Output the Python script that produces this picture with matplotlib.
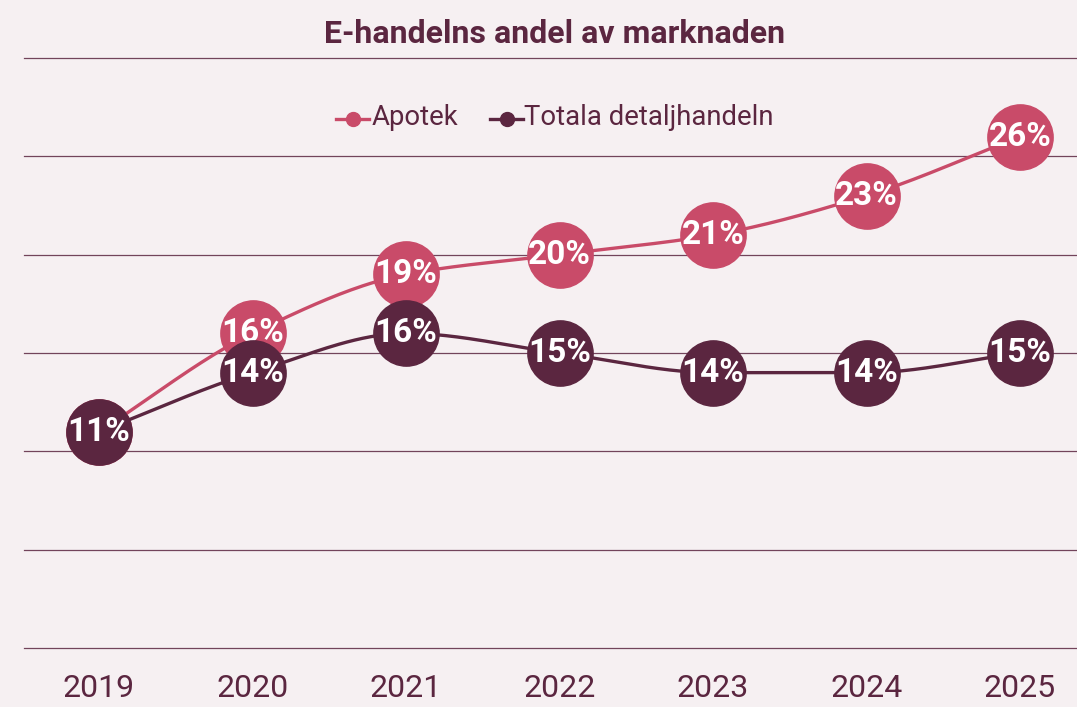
import matplotlib.pyplot as plt
import numpy as np

years = ['2019', '2020', '2021', '2022', '2023', '2024', '2025']
apotek = [11, 16, 19, 20, 21, 23, 26]
totala = [11, 14, 16, 15, 14, 14, 15]

PINK = '#c94b69'
DARK = '#5b2640'
BG = '#f6f0f2'


def monotone(x, y, n=40):
    # monotone cubic (Fritsch-Carlson) for a smooth line through the points
    x = np.asarray(x, float)
    y = np.asarray(y, float)
    h = np.diff(x)
    d = np.diff(y) / h
    m = np.zeros_like(y)
    m[0], m[-1] = d[0], d[-1]
    for i in range(1, len(y) - 1):
        if d[i - 1] * d[i] <= 0:
            m[i] = 0
        else:
            w1 = 2 * h[i] + h[i - 1]
            w2 = h[i] + 2 * h[i - 1]
            m[i] = (w1 + w2) / (w1 / d[i - 1] + w2 / d[i])
    xs, ys = [], []
    for i in range(len(x) - 1):
        t = np.linspace(0, 1, n)
        h00 = 2 * t**3 - 3 * t**2 + 1
        h10 = t**3 - 2 * t**2 + t
        h01 = -2 * t**3 + 3 * t**2
        h11 = t**3 - t**2
        xs.append(x[i] + t * h[i])
        ys.append(h00 * y[i] + h10 * h[i] * m[i] + h01 * y[i + 1] + h11 * h[i] * m[i + 1])
    return np.concatenate(xs), np.concatenate(ys)


fig = plt.figure(figsize=(10.77, 7.07), dpi=100)
fig.set_facecolor(BG)
ax = fig.add_axes([24 / 1077, 59 / 707, 1053 / 1077, 590 / 707])
ax.set_facecolor(BG)
ax.set_xlim(-0.489, 6.371)
ax.set_ylim(0, 30)
for s in ax.spines.values():
    s.set_visible(False)
ax.set_yticks([])
ax.set_xticks(range(len(years)))
ax.set_xticklabels(years, fontsize=23, color=DARK, family='Roboto')
ax.tick_params(axis='x', length=0, pad=19)
for v in range(0, 31, 5):
    ax.axhline(v, color=DARK, lw=0.9, zorder=1, alpha=0.85, clip_on=False)

x = np.arange(len(years))
z = 2
for vals, col in [(apotek, PINK), (totala, DARK)]:
    sx, sy = monotone(x, vals)
    ax.plot(sx, sy, color=col, lw=2.4, zorder=z, solid_capstyle='round')
    ax.plot(x, vals, 'o', color=col, ms=47, mec=col, zorder=z + 1)
    for xi, v in zip(x, vals):
        ax.text(xi, v, f'{v}%', ha='center', va='center', color='white',
                fontsize=24, fontweight='bold', family='Roboto', zorder=z + 2)
    z += 3

# legend
lg_y = 0.834
for lx, tx, col, lab in [(0.312, 0.345, PINK, 'Apotek'), (0.455, 0.487, DARK, 'Totala detaljhandeln')]:
    fig.add_artist(plt.Line2D([lx, lx + 0.031], [lg_y - 0.003, lg_y - 0.003], color=col, lw=2.4,
                              transform=fig.transFigure))
    fig.add_artist(plt.Line2D([lx + 0.0155], [lg_y - 0.003], marker='o', ms=10, color=col,
                              transform=fig.transFigure))
    fig.text(tx, lg_y, lab, fontsize=19.8, color=DARK, va='center', ha='left', family='Roboto')

fig.text(0.515, 0.952, 'E-handelns andel av marknaden', fontsize=23, fontweight='semibold',
         color=DARK, ha='center', va='center', family='Roboto')

fig.savefig('out.png', dpi=100, facecolor=BG)
